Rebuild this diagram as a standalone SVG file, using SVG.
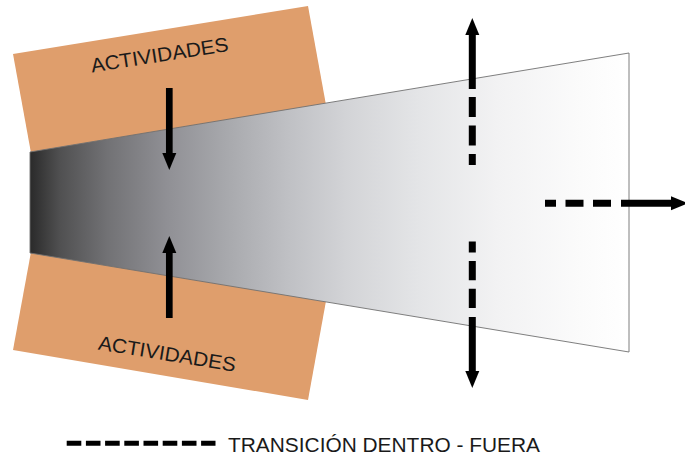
<svg xmlns="http://www.w3.org/2000/svg" width="685" height="459" viewBox="0 0 685 459">
  <style>
    .block { fill: #DF9E6C; stroke: none; }
    .lbl { font-family: "Liberation Sans", Arial, sans-serif; font-size: 20px; fill: #1a1a1a; }
    .shaft { stroke: #000; fill: none; stroke-linecap: butt; }
  </style>
  <defs>
    <linearGradient id="flowGrad" gradientUnits="userSpaceOnUse" x1="30" y1="0" x2="629" y2="0">
      <stop offset="0" stop-color="#2a2a2a"/>
      <stop offset="0.05" stop-color="#505051"/>
      <stop offset="0.13" stop-color="#727275"/>
      <stop offset="0.23" stop-color="#909095"/>
      <stop offset="0.33" stop-color="#a8a9ad"/>
      <stop offset="0.43" stop-color="#bfc0c4"/>
      <stop offset="0.53" stop-color="#d3d4d7"/>
      <stop offset="0.65" stop-color="#e4e5e7"/>
      <stop offset="0.78" stop-color="#f2f2f3"/>
      <stop offset="0.92" stop-color="#fbfbfb"/>
      <stop offset="1" stop-color="#ffffff"/>
    </linearGradient>
    <marker id="head" markerUnits="userSpaceOnUse" viewBox="0 0 18 16" markerWidth="18" markerHeight="16" refX="1" refY="8" orient="auto">
      <path d="M0,1 L17,8 L0,15 z" fill="#000"/>
    </marker>
  </defs>

  <g id="actividades-arriba">
    <polygon class="block" points="13,54 308,6 326,105 31,153"/>
    <text class="lbl" transform="translate(160.6,61.7) rotate(-8.9)" x="0" y="0" text-anchor="middle" textLength="139" lengthAdjust="spacingAndGlyphs">ACTIVIDADES</text>
  </g>

  <g id="actividades-abajo">
    <polygon class="block" points="31,252 326,301 308,400 13,350"/>
    <text class="lbl" transform="translate(166,360.5) rotate(9.2)" x="0" y="0" text-anchor="middle" textLength="139" lengthAdjust="spacingAndGlyphs">ACTIVIDADES</text>
  </g>

  <g id="flujo">
    <polygon points="30,152 629,53 629,352 30,253" fill="url(#flowGrad)" stroke="#707070" stroke-width="0.9"/>
  </g>

  <g id="conectores">
    <!-- activity arrows -->
    <line class="shaft" x1="169.3" y1="88" x2="169.3" y2="154" stroke-width="6.7" marker-end="url(#head)"/>
    <line class="shaft" x1="169.3" y1="318" x2="169.3" y2="252" stroke-width="6.7" marker-end="url(#head)"/>
    <!-- vertical dashed up -->
    <line class="shaft" x1="472.3" y1="89" x2="472.3" y2="34" stroke-width="7" marker-end="url(#head)"/>
    <line class="shaft" x1="472.3" y1="97" x2="472.3" y2="165" stroke-width="7" stroke-dasharray="20 8.5"/>
    <!-- vertical dashed down -->
    <line class="shaft" x1="472.3" y1="317" x2="472.3" y2="372" stroke-width="7" marker-end="url(#head)"/>
    <line class="shaft" x1="472.3" y1="308" x2="472.3" y2="241.5" stroke-width="7" stroke-dasharray="19.3 8.5"/>
    <!-- horizontal dashed right -->
    <line class="shaft" x1="621" y1="203.3" x2="672" y2="203.3" stroke-width="7" marker-end="url(#head)"/>
    <line class="shaft" x1="611" y1="203.3" x2="545" y2="203.3" stroke-width="7" stroke-dasharray="18 9.5"/>
  </g>

  <g id="leyenda">
    <line class="shaft" x1="66.7" y1="443.3" x2="215.5" y2="443.3" stroke-width="5" stroke-dasharray="14.6 4.6"/>
    <text class="lbl" x="228" y="452" style="font-size:21px" textLength="312" lengthAdjust="spacingAndGlyphs">TRANSICIÓN DENTRO - FUERA</text>
  </g>
</svg>
